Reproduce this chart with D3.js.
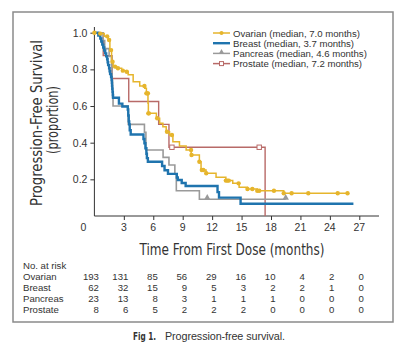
<!DOCTYPE html>
<html>
<head>
<meta charset="utf-8">
<script src="https://cdnjs.cloudflare.com/ajax/libs/d3/7.8.5/d3.min.js"></script>
<style>
  body { margin: 0; background: #fff; }
  text { font-family: "Liberation Sans", Arial, sans-serif; fill: #333; }
  .cond { font-family: "Liberation Sans Narrow", "DejaVu Sans Condensed", "Roboto Condensed", "Liberation Sans", sans-serif; }
</style>
</head>
<body>
<div id="chart"></div>
<script>
// Kaplan-Meier curves: [months, proportion] at each drop
const ovarian = [[0,1.0],[0.6,0.995],[1.0,0.98],[1.4,0.96],[1.58,0.905],[1.75,0.842],[1.91,0.815],[2.26,0.806],[2.78,0.793],[3.27,0.787],[3.44,0.77],[3.95,0.733],[4.62,0.709],[5.13,0.697],[5.3,0.669],[5.46,0.615],[5.5,0.56],[6.32,0.533],[6.65,0.506],[6.98,0.487],[7.32,0.46],[7.66,0.442],[8.0,0.405],[8.67,0.382],[9.35,0.36],[9.86,0.333],[10.7,0.296],[10.87,0.251],[11.38,0.233],[12.4,0.211],[13.4,0.193],[14.1,0.178],[14.75,0.157],[15.6,0.147],[16.6,0.138],[19.3,0.124],[25.8,0.124]];
const ovarianCensor = [0, 0.6, 1.3, 1.5, 1.7, 1.85, 2.1, 2.4, 2.9, 3.3, 5.1, 5.3, 5.4, 5.45, 5.5, 5.55, 6.4, 7.4, 7.9, 9.85, 9.9, 10.7, 10.95, 11.1, 11.4, 13.4, 13.55, 13.7, 14.7, 15.6, 16.1, 16.6, 16.8, 18.3, 19.3, 20.1, 21.8, 24.8, 25.8];

const breast = [[0,1.0],[0.4,0.984],[0.6,0.968],[0.7,0.952],[0.8,0.935],[0.9,0.919],[1.0,0.903],[1.1,0.887],[1.2,0.871],[1.3,0.855],[1.35,0.839],[1.4,0.823],[1.5,0.806],[1.55,0.79],[1.6,0.774],[1.7,0.758],[1.75,0.742],[1.78,0.726],[1.8,0.71],[1.82,0.694],[1.85,0.677],[1.88,0.661],[1.9,0.645],[2.5,0.613],[2.85,0.597],[3.4,0.581],[3.45,0.548],[3.5,0.516],[3.55,0.5],[3.6,0.468],[3.7,0.445],[5.0,0.42],[5.1,0.397],[5.2,0.37],[5.3,0.34],[5.35,0.316],[5.45,0.296],[6.9,0.273],[7.15,0.25],[7.5,0.23],[8.4,0.21],[8.5,0.196],[8.9,0.18],[9.3,0.164],[12.55,0.13],[12.7,0.1],[14.9,0.067],[26.4,0.067]];

const pancreas = [[0,1.0],[0.9,0.957],[1.05,0.913],[1.5,0.87],[1.75,0.826],[1.8,0.74],[1.85,0.65],[1.9,0.6],[3.45,0.5],[5.1,0.457],[5.25,0.36],[7.0,0.32],[7.6,0.278],[8.2,0.229],[8.35,0.138],[10.7,0.091],[19.5,0.091]];
const pancreasCensor = [11.5, 19.5];

const prostate = [[0,1.0],[0.9,0.875],[1.8,0.75],[3.5,0.625],[6.55,0.5],[7.6,0.375],[17.4,0.0]];
const prostateCensor = [7.9, 16.8];

const xTicks = [0, 3, 6, 9, 12, 15, 18, 21, 24, 27];
const yTicks = [0.2, 0.4, 0.6, 0.8, 1.0];

const legendLabels = ["Ovarian (median, 7.0 months)", "Breast (median, 3.7 months)", "Pancreas (median, 4.6 months)", "Prostate (median, 7.2 months)"];

const riskGroups = ["Ovarian", "Breast", "Pancreas", "Prostate"];
const riskOvarian = [193, 131, 85, 56, 29, 16, 10, 4, 2, 0];
const riskBreast = [62, 32, 15, 9, 5, 3, 2, 2, 1, 0];
const riskPancreas = [23, 13, 8, 3, 1, 1, 1, 0, 0, 0];
const riskProstate = [8, 6, 5, 2, 2, 2, 0, 0, 0, 0];

const width = 404;
const height = 351;

const colors = { ovarian: "#e6b52c", breast: "#1f74ae", pancreas: "#9a9a9a", prostate: "#b86a68" };

const svg = d3.select("#chart").append("svg")
    .attr("width", width)
    .attr("height", height);

// outer frame
svg.append("rect")
    .attr("x", 13).attr("y", 12)
    .attr("width", 380).attr("height", 310)
    .attr("fill", "none")
    .attr("stroke", "#8a8a8a")
    .attr("stroke-width", 1.5);

const x = d3.scaleLinear().domain([0, 27]).range([94.4, 359.3]);
const y = d3.scaleLinear().domain([0, 1]).range([216, 32.7]);

// axes
svg.append("line")
    .attr("x1", x(0)).attr("x2", 379)
    .attr("y1", y(0)).attr("y2", y(0))
    .attr("stroke", "#333").attr("stroke-width", 1);
svg.append("line")
    .attr("x1", x(0)).attr("x2", x(0))
    .attr("y1", 27).attr("y2", y(0))
    .attr("stroke", "#333").attr("stroke-width", 1);

const xAxis = svg.append("g")
    .attr("transform", `translate(0,${y(0)})`)
    .call(d3.axisBottom(x).tickValues(xTicks.slice(1)).tickSize(4).tickFormat(""));
xAxis.select(".domain").remove();
xAxis.selectAll("line").attr("stroke", "#333");

svg.append("g").selectAll("text")
    .data(xTicks)
    .join("text")
    .attr("x", d => d === 0 ? x(d) - 11 : x(d))
    .attr("y", 230.5)
    .attr("text-anchor", "middle")
    .style("font-size", "10.5px")
    .text(d => d);

const yAxis = svg.append("g")
    .attr("transform", `translate(${x(0)},0)`)
    .call(d3.axisLeft(y).tickValues(yTicks).tickSize(4).tickPadding(3).tickFormat(d3.format(".1f")));
yAxis.select(".domain").remove();
yAxis.selectAll("line").attr("stroke", "#333");
yAxis.selectAll("text")
    .attr("fill", "#333")
    .style("font-size", "10.5px")
    .style("font-family", "'Liberation Sans', Arial, sans-serif");

// axis titles (condensed look via textLength)
svg.append("text")
    .attr("class", "cond")
    .attr("x", 232)
    .attr("y", 255)
    .attr("text-anchor", "middle")
    .attr("textLength", 185)
    .attr("lengthAdjust", "spacingAndGlyphs")
    .style("font-size", "15px")
    .text("Time From First Dose (months)");

svg.append("text")
    .attr("class", "cond")
    .attr("transform", "translate(42,123) rotate(-90)")
    .attr("text-anchor", "middle")
    .attr("textLength", 166)
    .attr("lengthAdjust", "spacingAndGlyphs")
    .style("font-size", "15px")
    .text("Progression-Free Survival");
svg.append("text")
    .attr("class", "cond")
    .attr("transform", "translate(58,120) rotate(-90)")
    .attr("text-anchor", "middle")
    .attr("textLength", 68)
    .attr("lengthAdjust", "spacingAndGlyphs")
    .style("font-size", "15px")
    .text("(proportion)");

// survival curves
const line = d3.line()
    .x(d => x(d[0]))
    .y(d => y(d[1]))
    .curve(d3.curveStepAfter);

function survAt(data, t) {
    let s = data[0][1];
    for (const d of data) { if (d[0] <= t) s = d[1]; }
    return s;
}

svg.append("path").datum(prostate)
    .attr("d", line)
    .attr("fill", "none")
    .attr("stroke", colors.prostate)
    .attr("stroke-width", 1.4);

svg.append("path").datum(pancreas)
    .attr("d", line)
    .attr("fill", "none")
    .attr("stroke", colors.pancreas)
    .attr("stroke-width", 1.6);

svg.append("path").datum(ovarian)
    .attr("d", line)
    .attr("fill", "none")
    .attr("stroke", colors.ovarian)
    .attr("stroke-width", 1.5);

svg.append("path").datum(breast)
    .attr("d", line)
    .attr("fill", "none")
    .attr("stroke", colors.breast)
    .attr("stroke-width", 2.4);

// censor marks
svg.append("g").selectAll("circle")
    .data(ovarianCensor)
    .join("circle")
    .attr("cx", d => x(d))
    .attr("cy", d => y(survAt(ovarian, d)))
    .attr("r", 2.2)
    .attr("fill", colors.ovarian);

const tri = d3.symbol().type(d3.symbolTriangle).size(18);
svg.append("g").selectAll("path")
    .data(pancreasCensor)
    .join("path")
    .attr("transform", d => `translate(${x(d)},${y(survAt(pancreas, d)) - 1.5})`)
    .attr("d", tri)
    .attr("fill", colors.pancreas);

svg.append("g").selectAll("rect")
    .data(prostateCensor)
    .join("rect")
    .attr("x", d => x(d) - 2.2)
    .attr("y", d => y(survAt(prostate, d)) - 2.2)
    .attr("width", 4.4).attr("height", 4.4)
    .attr("fill", "#fff")
    .attr("stroke", colors.prostate)
    .attr("stroke-width", 1);

// legend
const legendColors = [colors.ovarian, colors.breast, colors.pancreas, colors.prostate];
const legend = svg.append("g").attr("transform", "translate(213,33)");
legendLabels.forEach((label, i) => {
    const g = legend.append("g").attr("transform", `translate(0,${i * 10.2})`);
    g.append("line")
        .attr("x1", 0).attr("x2", 17)
        .attr("stroke", legendColors[i])
        .attr("stroke-width", i === 1 ? 2.4 : 1.5);
    if (i === 0) {
        g.append("circle").attr("cx", 8.5).attr("r", 2).attr("fill", legendColors[i]);
    } else if (i === 2) {
        g.append("path").attr("transform", "translate(8.5,-1)").attr("d", d3.symbol().type(d3.symbolTriangle).size(14)).attr("fill", legendColors[i]);
    } else if (i === 3) {
        g.append("rect").attr("x", 6.5).attr("y", -2).attr("width", 4).attr("height", 4)
            .attr("fill", "#fff").attr("stroke", legendColors[i]);
    }
    g.append("text")
        .attr("x", 20)
        .attr("y", 3.5)
        .style("font-size", "9.6px")
        .text(label);
});

// number at risk table
const riskRows = [riskOvarian, riskBreast, riskPancreas, riskProstate];
svg.append("text")
    .attr("x", 23).attr("y", 269)
    .style("font-size", "9.6px")
    .text("No. at risk");

riskGroups.forEach((name, i) => {
    const rowY = 280 + i * 11;
    svg.append("text")
        .attr("x", 23).attr("y", rowY)
        .style("font-size", "9.6px")
        .text(name);
    svg.append("g").selectAll("text")
        .data(riskRows[i])
        .join("text")
        .attr("x", (d, j) => x(xTicks[j]) + 4.5)
        .attr("y", rowY)
        .attr("text-anchor", "end")
        .style("font-size", "9.6px")
        .text(d => d);
});

// caption
svg.append("text")
    .attr("class", "cond")
    .attr("x", 133).attr("y", 340)
    .attr("textLength", 23)
    .attr("lengthAdjust", "spacingAndGlyphs")
    .style("font-size", "10.5px")
    .style("font-weight", "bold")
    .text("Fig 1.");
svg.append("text")
    .attr("x", 165).attr("y", 340)
    .attr("textLength", 120)
    .attr("lengthAdjust", "spacing")
    .style("font-size", "10.8px")
    .text("Progression-free survival.");
</script>
</body>
</html>
